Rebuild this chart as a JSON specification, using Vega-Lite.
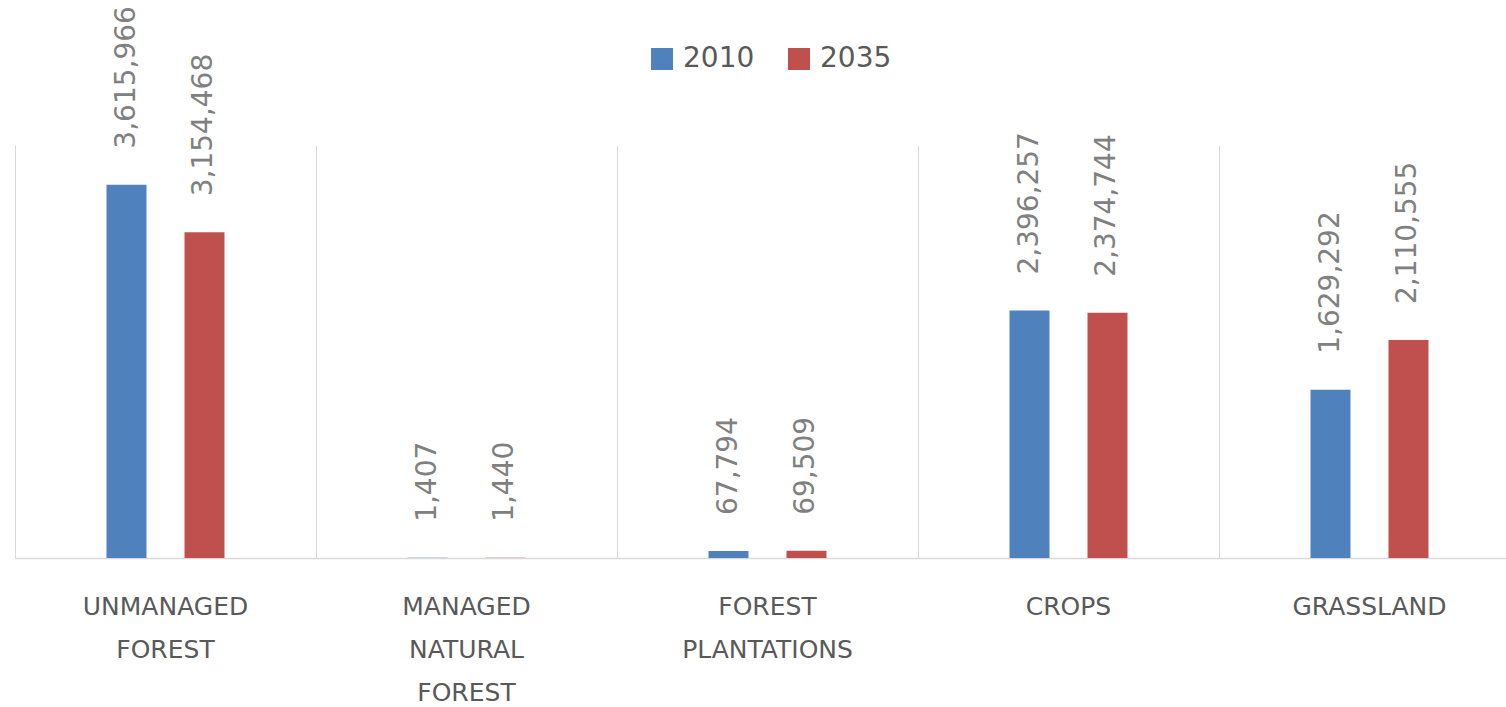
{
  "$schema": "https://vega.github.io/schema/vega-lite/v6.json",
  "width": 1491,
  "height": 413,
  "autosize": {"type": "none"},
  "padding": {"left": 15, "top": 145, "right": 0, "bottom": 149},
  "background": "white",
  "data": {
    "values": [
      {"category": "UNMANAGED FOREST", "year": "2010", "value": 3615966},
      {"category": "UNMANAGED FOREST", "year": "2035", "value": 3154468},
      {"category": "MANAGED NATURAL FOREST", "year": "2010", "value": 1407},
      {"category": "MANAGED NATURAL FOREST", "year": "2035", "value": 1440},
      {"category": "FOREST PLANTATIONS", "year": "2010", "value": 67794},
      {"category": "FOREST PLANTATIONS", "year": "2035", "value": 69509},
      {"category": "CROPS", "year": "2010", "value": 2396257},
      {"category": "CROPS", "year": "2035", "value": 2374744},
      {"category": "GRASSLAND", "year": "2010", "value": 1629292},
      {"category": "GRASSLAND", "year": "2035", "value": 2110555}
    ]
  },
  "encoding": {
    "x": {
      "field": "category",
      "type": "nominal",
      "sort": null,
      "scale": {"paddingInner": 0, "paddingOuter": 0, "range": [0, 1505]},
      "axis": {
        "title": null,
        "bandPosition": 0,
        "grid": true,
        "gridColor": "#d9d9d9",
        "gridWidth": 1,
        "ticks": false,
        "domainColor": "#d9d9d9",
        "domainWidth": 1.5,
        "labelAngle": 0,
        "labelExpr": "split(datum.label, ' ')",
        "labelFont": "DejaVu Sans",
        "labelFontSize": 25,
        "labelColor": "#595959",
        "labelPadding": 36,
        "labelLineHeight": 43,
        "labelLimit": 0,
        "labelOverlap": false,
        "labelBaseline": "top",
        "labelAlign": "center"
      }
    },
    "xOffset": {
      "field": "year",
      "type": "nominal",
      "scale": {"paddingInner": 0.141, "paddingOuter": 1}
    },
    "y": {
      "field": "value",
      "type": "quantitative",
      "scale": {"domain": [0, 4000000], "nice": false},
      "axis": null
    }
  },
  "layer": [
    {
      "mark": {"type": "bar", "width": 40},
      "encoding": {
        "color": {
          "field": "year",
          "type": "nominal",
          "scale": {"domain": ["2010", "2035"], "range": ["#4f81bd", "#c0504d"]},
          "legend": {
            "title": null,
            "orient": "none",
            "direction": "horizontal",
            "legendX": 633,
            "legendY": -100,
            "symbolType": "square",
            "symbolSize": 484,
            "symbolStrokeWidth": 0,
            "labelFont": "DejaVu Sans",
            "labelFontSize": 28,
            "labelColor": "#595959",
            "labelOffset": 7,
            "columnPadding": 30
          }
        }
      }
    },
    {
      "mark": {
        "type": "text",
        "angle": 270,
        "align": "left",
        "baseline": "middle",
        "dx": 36,
        "font": "DejaVu Sans",
        "fontSize": 28,
        "color": "#808080"
      },
      "encoding": {
        "text": {"field": "value", "type": "quantitative", "format": ","}
      }
    }
  ],
  "config": {
    "view": {"stroke": null}
  }
}
